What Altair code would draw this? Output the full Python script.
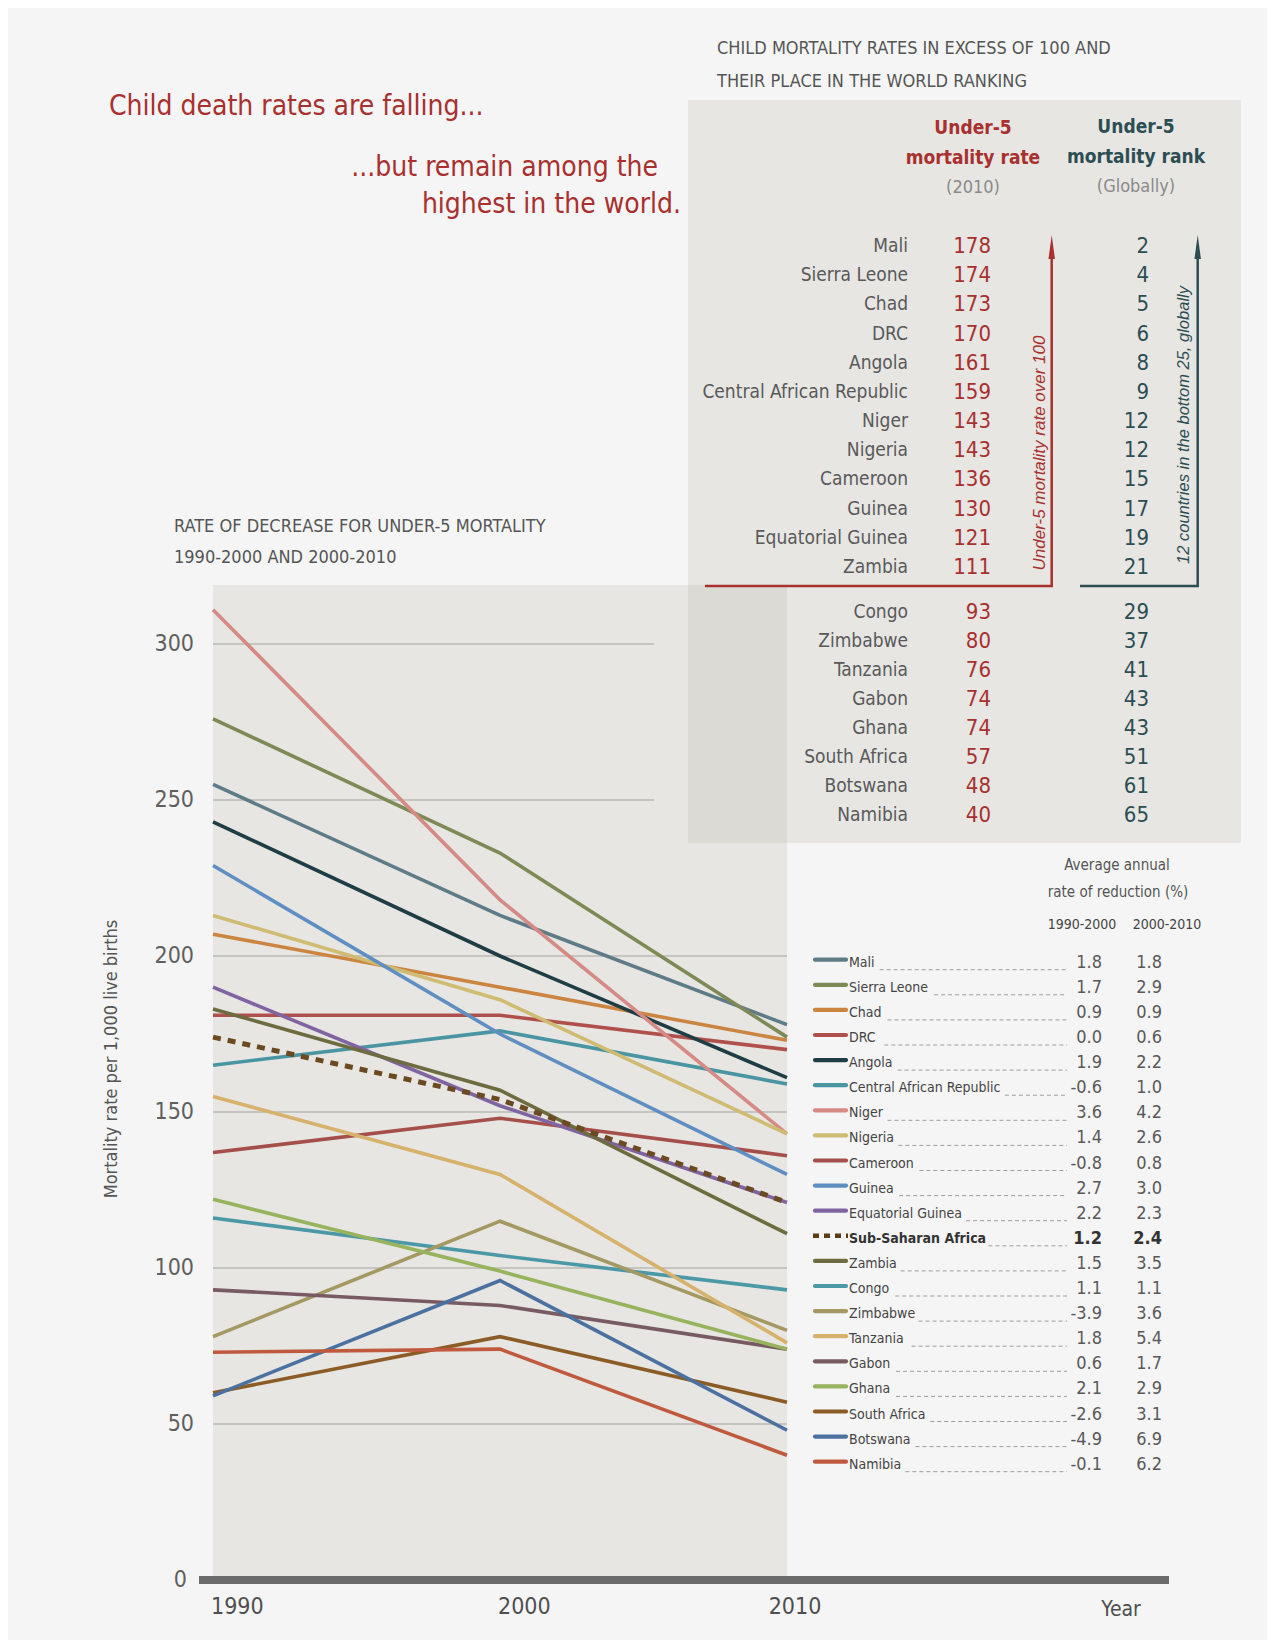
import altair as alt
import pandas as pd

# ---------------- data ----------------
countries = ["Mali", "Sierra Leone", "Chad", "DRC", "Angola", "Central African Republic",
             "Niger", "Nigeria", "Cameroon", "Guinea", "Equatorial Guinea", "Sub-Saharan Africa",
             "Zambia", "Congo", "Zimbabwe", "Tanzania", "Gabon", "Ghana", "South Africa",
             "Botswana", "Namibia"]
v1990 = [255, 276, 207, 181, 243, 165, 311, 213, 137, 229, 190, 174, 183, 116, 78, 155, 93, 122, 60, 59, 73]
v2000 = [213, 233, 190, 181, 200, 176, 218, 186, 148, 175, 152, 154, 157, 104, 115, 130, 88, 99, 78, 96, 74]
v2010 = [178, 174, 173, 170, 161, 159, 143, 143, 136, 130, 121, 121, 111, 93, 80, 76, 74, 74, 57, 48, 40]
red_9000 = ["1.8", "1.7", "0.9", "0.0", "1.9", "-0.6", "3.6", "1.4", "-0.8", "2.7", "2.2", "1.2",
            "1.5", "1.1", "-3.9", "1.8", "0.6", "2.1", "-2.6", "-4.9", "-0.1"]
red_0010 = ["1.8", "2.9", "0.9", "0.6", "2.2", "1.0", "4.2", "2.6", "0.8", "3.0", "2.3", "2.4",
            "3.5", "1.1", "3.6", "5.4", "1.7", "2.9", "3.1", "6.9", "6.2"]
line_colors = ["#5e7b88", "#7e8a55", "#cc8540", "#b0504c", "#1f3d44", "#4a95a2",
               "#d58a85", "#cfbc72", "#a54f4a", "#5f8fc2", "#8064a2", "#6b4a22",
               "#6d6b40", "#4b98a6", "#a49863", "#d6b26c", "#785a62", "#97b35e", "#8b5c25",
               "#4b71a0", "#c05a3e"]

top_names = ["Mali", "Sierra Leone", "Chad", "DRC", "Angola", "Central African Republic",
             "Niger", "Nigeria", "Cameroon", "Guinea", "Equatorial Guinea", "Zambia"]
top_rates = [178, 174, 173, 170, 161, 159, 143, 143, 136, 130, 121, 111]
top_ranks = [2, 4, 5, 6, 8, 9, 12, 12, 15, 17, 19, 21]
bot_names = ["Congo", "Zimbabwe", "Tanzania", "Gabon", "Ghana", "South Africa", "Botswana", "Namibia"]
bot_rates = [93, 80, 76, 74, 74, 57, 48, 40]
bot_ranks = [29, 37, 41, 43, 43, 51, 61, 65]

y_ticks = [50, 100, 150, 200, 250, 300]
years = [1990, 2000, 2010]

# ---------------- style ----------------
W, H = 1259, 1632
FONT = "DejaVu Sans Condensed, Liberation Sans Narrow, sans-serif"
IFONT = "Liberation Sans, DejaVu Sans, sans-serif"
RED = "#a8302f"
TEAL = "#2c4e53"
GREY = "#595959"
SSA = "Sub-Saharan Africa"

one = pd.DataFrame({"k": [0]})


def txt(s, x, y, size, color=GREY, align="left", weight="normal", style="normal",
        angle=0, font=FONT):
    return alt.Chart(one).mark_text(align=align, baseline="middle", fontSize=size, color=color,
                                    fontWeight=weight, fontStyle=style, angle=angle,
                                    font=font).encode(x=alt.value(x), y=alt.value(y),
                                                      text=alt.value(s))


def rect(x, x2, y, y2, color):
    return alt.Chart(one).mark_rect(color=color).encode(
        x=alt.value(x), x2=alt.value(x2), y=alt.value(y), y2=alt.value(y2))


def hrule(x, x2, y, color, w):
    return alt.Chart(one).mark_rule(color=color, strokeWidth=w).encode(
        x=alt.value(x), x2=alt.value(x2), y=alt.value(y))


def vrule(x, y, y2, color, w):
    return alt.Chart(one).mark_rule(color=color, strokeWidth=w).encode(
        x=alt.value(x), y=alt.value(y), y2=alt.value(y2))


def head(x, y, color):
    return alt.Chart(one).mark_point(shape="M0,-1L0.27,1L-0.27,1Z", filled=True, size=576,
                                     color=color, opacity=1, strokeWidth=0).encode(
        x=alt.value(x), y=alt.value(y))


# ---------------- main line chart ----------------
xs = alt.Scale(domain=[1990, 2010], range=[205, 779], nice=False, zero=False)
ys = alt.Scale(domain=[0, 300], range=[1572, 636], nice=False, zero=False)
cscale = alt.Scale(domain=countries, range=line_colors)

rows = []
for c, a, b, d in zip(countries, v1990, v2000, v2010):
    for yr, v in zip(years, [a, b, d]):
        rows.append({"country": c, "year": yr, "value": v})
long_df = pd.DataFrame(rows)

X = alt.X("year:Q", scale=xs, axis=None)
Y = alt.Y("value:Q", scale=ys, axis=None)

grid_low = alt.Chart(pd.DataFrame({"value": [v for v in y_ticks if v <= 200]})).mark_rule(
    color="#a2a2a0", strokeWidth=1).encode(y=Y, x=alt.value(205), x2=alt.value(779))
grid_high = alt.Chart(pd.DataFrame({"value": [v for v in y_ticks if v > 200]})).mark_rule(
    color="#a2a2a0", strokeWidth=1).encode(y=Y, x=alt.value(205), x2=alt.value(646))

lines = alt.Chart(long_df[long_df.country != SSA]).mark_line(strokeWidth=3.6).encode(
    x=X, y=Y, color=alt.Color("country:N", scale=cscale, legend=None))
ssa_line = alt.Chart(long_df[long_df.country == SSA]).mark_line(
    strokeWidth=5, strokeDash=[8, 7], color="#6b4a22").encode(x=X, y=Y)

bar = alt.Chart(pd.DataFrame({"value": [0]})).mark_rule(color="#6b6b6b", strokeWidth=8).encode(
    y=Y, x=alt.value(191), x2=alt.value(1161))

ylab = alt.Chart(pd.DataFrame({"value": y_ticks, "label": [str(v) for v in y_ticks]})).mark_text(
    align="right", baseline="middle", fontSize=23, color="#5f5f5f", font=FONT).encode(
    y=Y, x=alt.value(186), text="label:N")
ylab0 = alt.Chart(pd.DataFrame({"value": [0], "label": ["0"]})).mark_text(
    align="right", baseline="middle", fontSize=23, color="#5f5f5f", font=FONT).encode(
    y=Y, x=alt.value(179), text="label:N")
xlab = alt.Chart(pd.DataFrame({"year": years[:2], "label": [str(v) for v in years[:2]]})).mark_text(
    align="left", baseline="middle", fontSize=23, color="#4f4f4f", font=FONT, dx=-2).encode(
    x=X, y=alt.value(1599), text="label:N")
xlab2 = alt.Chart(pd.DataFrame({"year": years[2:], "label": [str(v) for v in years[2:]]})).mark_text(
    align="center", baseline="middle", fontSize=23, color="#4f4f4f", font=FONT, dx=8).encode(
    x=X, y=alt.value(1599), text="label:N")

main = alt.layer(grid_high, grid_low, lines, ssa_line, bar, ylab, ylab0, xlab, xlab2)

# ---------------- ranking table ----------------
def table(names, rates, ranks, y0, y1):
    df = pd.DataFrame({"i": list(range(len(names))), "name": names,
                       "rate": [str(r) for r in rates], "rank": [str(r) for r in ranks]})
    sc = alt.Scale(domain=[0, len(names) - 1], range=[y0, y1], nice=False, zero=False)
    base = alt.Chart(df).encode(y=alt.Y("i:Q", scale=sc, axis=None))
    return alt.layer(
        base.mark_text(align="right", baseline="middle", fontSize=19, color=GREY, font=FONT).encode(
            x=alt.value(900), text="name:N"),
        base.mark_text(align="right", baseline="middle", fontSize=22, color=RED, font=FONT).encode(
            x=alt.value(983), text="rate:N"),
        base.mark_text(align="right", baseline="middle", fontSize=22, color=TEAL, font=FONT).encode(
            x=alt.value(1141), text="rank:N"),
    )


tbl_top = table(top_names, top_rates, top_ranks, 238, 559)
tbl_bot = table(bot_names, bot_rates, bot_ranks, 603.7, 807)

# ---------------- legend table ----------------
CW = {c: 0.556 for c in "abdeghnopqu0123456789"}
CW.update({"c": 0.5, "k": 0.5, "s": 0.5, "v": 0.5, "x": 0.5, "y": 0.5, "z": 0.5,
           "f": 0.278, "t": 0.278, "i": 0.222, "j": 0.222, "l": 0.222, "r": 0.333,
           "m": 0.833, "w": 0.722, " ": 0.278, "-": 0.333, ".": 0.278,
           "A": 0.667, "B": 0.667, "C": 0.722, "D": 0.722, "E": 0.667, "G": 0.778,
           "L": 0.556, "M": 0.833, "N": 0.722, "R": 0.722, "S": 0.667, "T": 0.611,
           "Z": 0.611})
LEG_SIZE = 14
NAME_X = 841
LEAD_END = 1059


def est_width(s, size, bold=False):
    w = sum(CW.get(ch, 0.6) for ch in s) * 1.0 * size
    return w * (1.1 if bold else 1.0)


leg = pd.DataFrame({"i": list(range(len(countries))), "name": countries,
                    "v1": red_9000, "v2": red_0010})
leg["lead"] = [NAME_X + est_width(n, LEG_SIZE, n == SSA) + 5 for n in countries]
ly = alt.Scale(domain=[0, len(countries) - 1], range=[954.7, 1456.7], nice=False, zero=False)
LY = alt.Y("i:Q", scale=ly, axis=None)
lbase = alt.Chart(leg).encode(y=LY)
lnorm = lbase.transform_filter(alt.datum.name != SSA)
lssa = lbase.transform_filter(alt.datum.name == SSA)

legend = alt.layer(
    lnorm.mark_rule(strokeWidth=4.2, strokeCap="round", yOffset=-3).encode(
        x=alt.value(807), x2=alt.value(838),
        color=alt.Color("name:N", scale=cscale, legend=None)),
    lssa.mark_rule(strokeWidth=4.5, strokeDash=[6, 5], color="#5a3c18", yOffset=-3).encode(
        x=alt.value(805), x2=alt.value(840)),
    lbase.mark_rule(strokeWidth=1, strokeDash=[4, 3], color="#9d9d9d", yOffset=7).encode(
        x=alt.X("lead:Q", scale=None), x2=alt.value(LEAD_END)),
    lnorm.mark_text(align="left", baseline="middle", fontSize=LEG_SIZE, color="#444444",
                    font=FONT).encode(x=alt.value(NAME_X), text="name:N"),
    lssa.mark_text(align="left", baseline="middle", fontSize=LEG_SIZE, color="#333333",
                   fontWeight="bold", font=FONT).encode(x=alt.value(NAME_X), text="name:N"),
    lnorm.mark_text(align="right", baseline="middle", fontSize=18, color=GREY, font=FONT).encode(
        x=alt.value(1094), text="v1:N"),
    lnorm.mark_text(align="right", baseline="middle", fontSize=18, color=GREY, font=FONT).encode(
        x=alt.value(1154), text="v2:N"),
    lssa.mark_text(align="right", baseline="middle", fontSize=18, color="#333333",
                   fontWeight="bold", font=FONT).encode(x=alt.value(1094), text="v1:N"),
    lssa.mark_text(align="right", baseline="middle", fontSize=18, color="#333333",
                   fontWeight="bold", font=FONT).encode(x=alt.value(1154), text="v2:N"),
)

# ---------------- decorations & texts ----------------
panels = [
    rect(680, 1233, 92, 835, "#e7e6e3"),   # ranking table panel
    rect(205, 779, 577, 1572, "#e7e6e2"),  # plot area
    rect(680, 779, 577, 835, "#dcdad5"),   # overlap
]

deco = [
    hrule(697, 1045, 578, RED, 2.5),
    vrule(1043.7, 251, 579, RED, 2.5),
    head(1043.7, 239, RED),
    hrule(1072, 1191, 578, TEAL, 2.5),
    vrule(1189.7, 251, 579, TEAL, 2.5),
    head(1189.7, 239, TEAL),
]

texts = [
    txt("Child death rates are falling...", 101, 99, 28, RED),
    txt("...but remain among the", 650, 160, 28, RED, align="right"),
    txt("highest in the world.", 673, 197, 28, RED, align="right"),
    txt("CHILD MORTALITY RATES IN EXCESS OF 100 AND", 709, 41, 18, "#555555"),
    txt("THEIR PLACE IN THE WORLD RANKING", 709, 73.5, 18, "#555555"),
    txt("Under-5", 965, 120, 19, RED, align="center", weight="bold"),
    txt("mortality rate", 965, 150, 19, RED, align="center", weight="bold"),
    txt("(2010)", 965, 180, 18, "#8a8a8a", align="center"),
    txt("Under-5", 1128, 119, 19, TEAL, align="center", weight="bold"),
    txt("mortality rank", 1128, 149, 19, TEAL, align="center", weight="bold"),
    txt("(Globally)", 1128, 179, 18, "#8a8a8a", align="center"),
    txt("Under-5 mortality rate over  100", 1032, 445, 17, RED, align="center",
        style="italic", angle=270, font=IFONT),
    txt("12 countries in the bottom 25, globally", 1176, 417, 16.5, TEAL, align="center",
        style="italic", angle=270, font=IFONT),
    txt("RATE OF DECREASE FOR UNDER-5 MORTALITY", 166, 519, 18, "#555555"),
    txt("1990-2000 AND 2000-2010", 166, 550, 18, "#555555"),
    txt("Mortality rate per 1,000 live births", 104, 1051, 18, "#555555", align="center",
        angle=270),
    txt("Year", 1113, 1602, 21, "#4f4f4f", align="center"),
    txt("Average annual", 1109, 857, 15, "#555555", align="center"),
    txt("rate of reduction (%)", 1110, 884, 15, "#555555", align="center"),
    txt("1990-2000", 1074, 917, 14, "#444444", align="center"),
    txt("2000-2010", 1159, 917, 14, "#444444", align="center"),
]

chart = alt.layer(*panels, main, tbl_top, tbl_bot, legend, *deco, *texts).resolve_scale(
    x="independent", y="independent").properties(
    width=W, height=H, autosize=alt.AutoSizeParams(type="none"), padding=0,
    background="#f4f5f4").configure_view(stroke=None)

chart.save("out.html", embed_options={"renderer": "svg", "actions": False})
